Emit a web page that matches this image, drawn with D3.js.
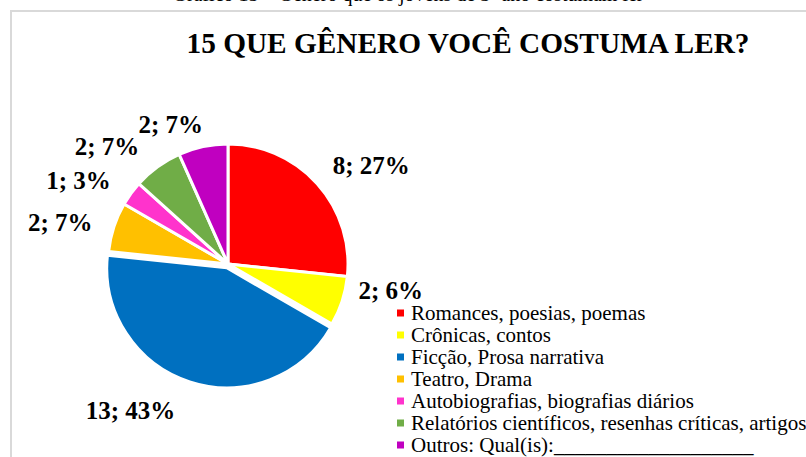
<html>
  <head>
    <script src="https://cdn.jsdelivr.net/npm/d3@7"></script>
  </head>
  <body style="margin:0">
    <script>
      // data
      const categories = [
        "Romances, poesias, poemas",
        "Crônicas, contos",
        "Ficção, Prosa narrativa",
        "Teatro, Drama",
        "Autobiografias, biografias diários",
        "Relatórios científicos, resenhas críticas, artigos",
        "Outros: Qual(is):___________________"
      ];
      const counts = [8, 2, 13, 2, 1, 2, 2];
      const percentLabels = ["27%", "6%", "43%", "7%", "3%", "7%", "7%"];
      const colors = ["#FF0000", "#FFFF00", "#0070C0", "#FFC000", "#FF33CC", "#70AD47", "#C000C0"];

      const width = 806, height = 457;
      const cx = 228, cy = 264, radius = 120;
      const font = '"Liberation Serif"';
      // nudges for the data labels (Excel puts them by hand-ish)
      const labelNudge = [[17, 15], [1, -26], [-45, -15], [-6, 11], [-12, 16], [-21, 20], [-22, 27]];

      const svg = d3.select("body").append("svg")
          .attr("width", width)
          .attr("height", height);

      // caption above the chart box, cut by the page top like in the picture
      svg.append("text")
          .attr("x", 408)
          .attr("y", 1)
          .attr("text-anchor", "middle")
          .style("font-family", font)
          .style("font-size", "20px")
          .text("Gráfico 15 – Gênero que os jovens de 3º ano costumam ler");

      // chart frame
      svg.append("rect")
          .attr("x", 11).attr("y", 11)
          .attr("width", 900).attr("height", 600)
          .attr("fill", "none")
          .attr("stroke", "#d9d9d9")
          .attr("stroke-width", 2);

      svg.append("text")
          .attr("x", 468)
          .attr("y", 53)
          .attr("text-anchor", "middle")
          .attr("textLength", 563)
          .attr("lengthAdjust", "spacingAndGlyphs")
          .style("font-family", font)
          .style("font-weight", "bold")
          .style("font-size", "30px")
          .text("15 QUE GÊNERO VOCÊ COSTUMA LER?");

      const pie = d3.pie().sort(null).value(d => d);
      const arcs = pie(counts);
      const arc = d3.arc().innerRadius(0).outerRadius(radius);
      const labelArc = d3.arc().innerRadius(170).outerRadius(170);

      const g = svg.append("g").attr("transform", `translate(${cx},${cy})`);

      g.selectAll("path")
        .data(arcs)
        .join("path")
          .attr("d", arc)
          .attr("fill", (d, i) => colors[i])
          .attr("stroke", "#fff")
          .attr("stroke-width", 3)
          .attr("transform", (d, i) => {
            // the blue slice is pulled out a little
            if (i !== 2) return null;
            const [x, y] = arc.centroid(d);
            const k = 4 / Math.hypot(x, y);
            return `translate(${x * k},${y * k})`;
          });

      g.selectAll("text.lbl")
        .data(arcs)
        .join("text")
          .attr("class", "lbl")
          .attr("x", (d, i) => labelArc.centroid(d)[0] + labelNudge[i][0])
          .attr("y", (d, i) => labelArc.centroid(d)[1] + labelNudge[i][1])
          .attr("dy", "0.35em")
          .attr("text-anchor", "middle")
          .style("font-family", font)
          .style("font-weight", "bold")
          .style("font-size", "25px")
          .text((d, i) => `${counts[i]}; ${percentLabels[i]}`);

      // legend
      const yLegend = d3.scaleBand()
          .domain(categories)
          .range([302, 456]);

      const legend = svg.append("g");
      const item = legend.selectAll("g")
        .data(categories)
        .join("g")
          .attr("transform", d => `translate(397,${yLegend(d) + yLegend.bandwidth() / 2})`);

      item.append("rect")
          .attr("x", 0).attr("y", -3.5)
          .attr("width", 7).attr("height", 7)
          .attr("fill", (d, i) => colors[i]);

      item.append("text")
          .attr("x", 14)
          .attr("dy", "0.33em")
          .style("font-family", font)
          .style("font-size", "21px")
          .text(d => d);
    </script>
  </body>
</html>
